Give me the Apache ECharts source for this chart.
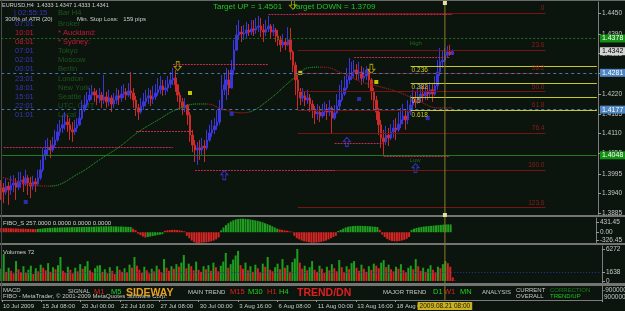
<!DOCTYPE html>
<html>
<head>
<meta charset="utf-8">
<script src="https://cdn.jsdelivr.net/npm/echarts@6/dist/echarts.min.js"></script>
<style>
html,body{margin:0;padding:0;background:#0b150d;overflow:hidden}
#chart{width:625px;height:311px}
</style>
</head>
<body>
<div id="chart"></div>
<script>
// ================= DATA =================
const slotCount = 244;          // bar slots incl. empty right shift
const firstOpen = 13960;        // price in 1e-4 units
const closeP = [
13956,13944,13961,13950,13964,13970,13958,13975,13978,13967,
13984,13970,13961,13973,13967,13984,14007,14049,14063,14071,
14063,14077,14091,14114,14125,14134,14142,14134,14120,14114,
14125,14134,14153,14176,14190,14204,14218,14227,14218,14210,
14218,14204,14213,14199,14210,14193,14204,14216,14210,14221,
14227,14218,14230,14224,14204,14182,14170,14187,14199,14210,
14216,14207,14213,14224,14233,14244,14233,14238,14249,14261,
14266,14247,14218,14199,14182,14190,14162,14105,14077,14063,
14069,14063,14074,14069,14091,14111,14120,14131,14142,14176,
14233,14247,14261,14238,14289,14345,14388,14396,14391,14393,
14402,14396,14405,14402,14410,14413,14402,14396,14405,14413,
14396,14402,14385,14374,14360,14368,14360,14374,14340,14303,
14261,14227,14210,14216,14204,14210,14193,14176,14165,14170,
14159,14170,14176,14170,14182,14153,14168,14187,14204,14221,
14238,14261,14272,14283,14289,14278,14283,14266,14272,14289,
14261,14227,14204,14170,14134,14097,14086,14105,14097,14114,
14125,14120,14136,14148,14159,14148,14170,14190,14204,14199,
14213,14221,14216,14227,14221,14233,14221,14244,14283,14312,
14317,14331,14340,14333,14341];
const highP = [
13978,13970,13984,13973,13990,13992,13984,14001,14001,13990,
14007,13992,13987,13990,13984,14007,14035,14069,14091,14097,
14091,14100,14120,14136,14148,14162,14170,14162,14153,14142,
14148,14153,14176,14204,14218,14227,14238,14247,14238,14233,
14238,14227,14275,14227,14233,14218,14224,14238,14233,14244,
14249,14238,14252,14283,14238,14216,14193,14210,14224,14233,
14238,14233,14244,14249,14266,14272,14261,14261,14272,14283,
14295,14289,14249,14227,14210,14210,14193,14170,14120,14091,
14086,14091,14097,14091,14120,14134,14148,14153,14176,14204,
14275,14281,14295,14289,14317,14374,14416,14430,14413,14416,
14425,14419,14430,14430,14436,14442,14436,14419,14430,14442,
14419,14419,14408,14402,14385,14391,14379,14410,14408,14345,
14312,14275,14238,14238,14227,14233,14221,14204,14187,14193,
14187,14193,14199,14193,14204,14187,14190,14221,14247,14261,
14272,14295,14323,14312,14317,14306,14312,14300,14295,14300,
14278,14266,14238,14216,14182,14148,14120,14131,14125,14136,
14148,14153,14170,14182,14193,14176,14204,14218,14233,14227,
14241,14247,14244,14249,14244,14255,14249,14272,14317,14351,
14345,14351,14357,14360,14347];
const lowP = [
13922,13913,13936,13908,13936,13944,13922,13950,13956,13944,
13961,13936,13927,13950,13944,13961,13978,14001,14035,14049,
14040,14057,14069,14086,14103,14111,14120,14114,14091,14086,
14105,14114,14131,14148,14170,14182,14199,14204,14199,14190,
14196,14182,14193,14182,14187,14170,14182,14193,14190,14199,
14210,14204,14213,14207,14182,14159,14148,14165,14176,14187,
14193,14187,14193,14204,14216,14221,14216,14218,14227,14238,
14247,14227,14199,14176,14162,14170,14134,14086,14057,14029,
14021,14035,14049,14029,14063,14086,14100,14108,14120,14134,
14176,14218,14204,14218,14238,14275,14345,14374,14368,14374,
14379,14385,14388,14385,14391,14396,14382,14368,14385,14396,
14379,14385,14368,14357,14340,14351,14345,14357,14317,14283,
14218,14176,14190,14199,14187,14193,14170,14153,14136,14148,
14142,14153,14159,14148,14159,14111,14148,14165,14176,14199,
14216,14233,14249,14261,14266,14261,14261,14247,14255,14261,
14238,14204,14176,14148,14105,14069,14049,14077,14074,14091,
14097,14091,14114,14125,14136,14120,14136,14162,14176,14182,
14193,14199,14199,14204,14204,14210,14199,14216,14233,14272,
14295,14312,14323,14329,14333];
const volumes = [
2400,5300,1800,2600,2000,1500,3900,2300,1700,2900,
1600,2200,3000,1400,2500,1900,3200,2600,2100,3500,
1800,2700,2300,3100,4700,2000,1600,2800,2200,1500,
2600,1900,3300,2400,2900,3900,2100,1700,2500,3000,
3100,1800,2300,1500,2700,2000,1400,2900,2200,1800,
2500,1700,3200,2600,4700,3000,2200,1600,2800,2100,
1500,2400,1900,3000,2300,1700,4300,2600,2000,2900,
2400,3300,2800,3600,5100,2500,3400,2900,2100,3800,
2200,1800,2900,2300,3100,2000,3600,2700,1900,3000,
3800,5500,2600,3300,4200,5000,5900,3100,2400,3600,
2100,2900,1800,3200,2500,1700,3400,2800,4700,2200,
1900,2700,3400,2300,4300,2600,3100,1800,3700,4400,
6272,3600,2400,3000,2100,2700,3900,2200,1800,3000,
2400,1600,2800,2100,3300,2500,1900,4100,2700,1700,
2900,2300,3500,3900,2600,2000,3200,2400,1800,2900,
2200,3400,3000,2500,3600,4100,2700,3200,2300,1900,
2800,2400,3300,2100,1700,2600,3000,2300,4300,2900,
2000,2600,1800,2400,3100,2200,1700,2800,2500,3300,
3900,3500,2800,700,72];
const fiboVals = [
180,175,170,170,165,160,160,155,150,150,145,140,140,135,130,
140,150,160,170,180,185,190,195,200,200,205,205,210,210,215,215,215,220,220,225,225,230,230,235,240,240,245,245,250,250,250,245,245,240,240,235,230,225,220,
150,90,-60,-120,-180,-220,
-200,-180,-160,-140,-120,-100,-80,
60,80,90,100,100,90,80,60,40,-150,-250,-350,-420,-450,-450,-440,-430,-420,-400,-380,-350,-300,-220,
80,200,300,380,450,500,540,560,570,570,560,550,540,520,500,480,450,420,380,340,300,250,200,150,
120,100,80,60,40,20,-150,-250,-300,-350,-380,-400,-420,-440,-440,-430,-420,-400,-380,-350,-300,-250,-200,-150,
50,100,150,200,230,250,260,270,270,270,265,260,255,250,240,230,220,
100,-100,-200,-280,-340,-370,-380,-380,-370,-350,-320,-280,-200,
100,150,180,200,220,240,250,260,270,280,290,300,310,320,330,330,330];
const fiboColorRuns = [['r',15],['g',39],['r',6],['g',7],['r',23],['g',24],['r',24],['g',17],['r',13],['g',17]];
const maIdx = [0,13,20,32,40,48,56,64,72,80,84,90,98,101,109,117,121,125,130,134,138,141,147,155,163,171,178,184];
const maVal = [13987,13964,13961,13998,14035,14071,14114,14148,14179,14193,14193,14179,14168,14170,14204,14252,14275,14295,14297,14295,14283,14275,14255,14241,14224,14199,14182,14182];
const maRising = [[20,84],[101,130]];
const tickLabels = ["10 Jul 2009","15 Jul 08:00","20 Jul 00:00","22 Jul 16:00","27 Jul 08:00","30 Jul 00:00","3 Aug 16:00","6 Aug 08:00","11 Aug 00:00","13 Aug 16:00","18 Aug 08:00"];
const tickStep = 16;
const priceTicks = [1.4450,1.4390,1.4335,1.4280,1.4220,1.4165,1.4110,1.4055,1.3995,1.3940,1.3885];
const fiboTicks = [431.45,0,-326.45];
const volTicks = [6272,1638,0];
const fibRatios = [0,23.6,38.2,50,61.8,76.4,100,123.6];
const fibHigh = 1.4450, fibLow = 1.4006, fibSpan = [121,222];
const subFibRatios = [0.236,0.382,0.5,0.618];
const dayHigh = 1.4378, dayLow = 1.4048, subFibStart = 167;
const srLines = [[70,109,1.4306],[109,184,1.4447],[144,183,1.4326],[1,70,1.4071],[55,78,1.4117],[79,136,1.4007],[136,156,1.4083],[156,183,1.4046]];
const levelValues = [1.4378,1.4342,1.4281,1.4177,1.4048];
const arrowsDown = [[72,1.4300],[119,1.4473],[151,1.4292]];
const arrowsUp = [[91,1.3992],[141,1.4086],[169,1.4012]];
const dotsYellow = [[77,1.4224],[122,1.4281],[153,1.4255]];
const dotsBlue = [[10,1.3916],[94,1.4165],[146,1.4207],[174,1.4153]];
const cursorIdx = 181;
const cursorLabel = "2009.08.21 08:00";
const volLevel = 1638;

// ================= BUILD =================
const FONT = '"Liberation Sans", Arial, sans-serif';
const UP = '#3a36dc', DN = '#cf2a2a', GREEN = '#1f9e1f', RED = '#d42424';
const AX = '#c8c8c8';
const cats = Array.from({length: slotCount}, (_, i) => i);
const candles = closeP.map((c, i) => {
  const o = i === 0 ? firstOpen : closeP[i - 1];
  const h = Math.max(highP[i], o, c), l = Math.min(lowP[i], o, c);
  return [o / 1e4, c / 1e4, l / 1e4, h / 1e4];
});
const fiboColors = fiboColorRuns.flatMap(([c, n]) => Array(n).fill(c));
const fiboData = fiboVals.map((v, i) => ({value: v, itemStyle: {color: fiboColors[i] === 'g' ? GREEN : RED}}));
const volData = volumes.map((v, i) => ({value: v, itemStyle: {color: (i > 0 && v <= volumes[i - 1]) ? RED : GREEN}}));
const maData = maIdx.map((x, k) => [x, maVal[k] / 1e4]);

const levelStyles = [
  {line: '#1c6e1c', type: [2, 2], bg: '#139013', fg: '#ffffff'},
  {line: 'rgba(0,0,0,0)', type: 'solid', bg: '#d4d4d4', fg: '#000000'},
  {line: '#4674b4', type: [3, 3], bg: '#4f86c2', fg: '#ffffff'},
  {line: '#4674b4', type: [3, 3], bg: '#4f86c2', fg: '#ffffff'},
  {line: '#1e7a1e', type: 'solid', bg: '#139013', fg: '#ffffff'}
];

const ml = [];
fibRatios.forEach(r => {
  const p = fibHigh - r / 100 * (fibHigh - fibLow);
  ml.push([{coord: [fibSpan[0], p], lineStyle: {color: '#7a1414', type: 'solid', width: 1},
    label: {show: true, position: 'insideEndTop', formatter: r === 0 ? '0' : r.toFixed(1), color: '#8e1c1c', fontSize: 6.5, fontFamily: FONT, distance: 1}},
    {coord: [fibSpan[1], p]}]);
});
srLines.forEach(([a, b, p]) => ml.push([{coord: [a, p], lineStyle: {color: '#c42a52', type: [2, 1], width: 1.2}}, {coord: [b, p]}]));
subFibRatios.forEach(r => {
  const p = dayHigh - r * (dayHigh - dayLow);
  ml.push([{coord: [subFibStart, p], lineStyle: {color: '#c8c828', type: 'solid', width: 1},
    label: {show: true, position: 'insideStartBottom', formatter: String(r), color: '#c8c832', fontSize: 6.5, fontFamily: FONT, distance: 1}},
    {coord: [slotCount - 1, p]}]);
});
levelValues.forEach((v, k) => {
  const s = levelStyles[k];
  ml.push([{coord: [0, v], lineStyle: {color: s.line, type: s.type, width: 1},
    label: {show: true, position: 'end', formatter: v.toFixed(4), backgroundColor: s.bg, color: s.fg, padding: [1, 2, 0, 2], fontSize: 7, fontFamily: FONT, distance: 3}},
    {coord: [slotCount - 1, v]}]);
});

const arrowDownPath = 'path://M3,0 L7,0 L7,6 L10,6 L5,11 L0,6 L3,6 Z';
const arrowUpPath = 'path://M5,0 L10,5 L7,5 L7,11 L3,11 L3,5 L0,5 Z';
const showEvery = idx => idx % tickStep === 0 && idx / tickStep < tickLabels.length;

const hiddenX = g => ({type: 'category', gridIndex: g, data: cats, boundaryGap: true, show: false});
const yBase = (g, min, max, ticks, fmt) => ({
  type: 'value', gridIndex: g, position: 'right', min, max,
  splitLine: {show: false},
  axisLine: {show: true, lineStyle: {color: '#7c7c7c', width: 1}},
  axisTick: {show: !!ticks, customValues: ticks || [], length: 3, lineStyle: {color: '#9a9a9a'}},
  axisLabel: {show: !!ticks, customValues: ticks || [], formatter: fmt, color: AX, fontSize: 6.5, fontFamily: FONT, margin: 4}
});

const option = {
  animation: false,
  backgroundColor: '#0b150d',
  grid: [
    {left: 0, top: 2, width: 602, height: 213},
    {left: 0, top: 218, width: 602, height: 25},
    {left: 0, top: 246, width: 602, height: 37},
    {left: 0, top: 286, width: 602, height: 14}
  ],
  xAxis: [hiddenX(0), hiddenX(1), hiddenX(2), {
    type: 'category', gridIndex: 3, data: cats, boundaryGap: true, position: 'bottom',
    axisLine: {show: true, lineStyle: {color: '#7c7c7c', width: 1}},
    axisTick: {show: true, interval: (i) => showEvery(i), length: 2, lineStyle: {color: '#9a9a9a'}},
    axisLabel: {show: true, interval: (i) => showEvery(i), formatter: (v) => tickLabels[Number(v) / tickStep],
      align: 'left', color: AX, fontSize: 6, fontFamily: FONT, margin: 3}
  }],
  yAxis: [
    yBase(0, 1.387935, 1.448107, priceTicks, v => v.toFixed(4)),
    yBase(1, -452.77, 599.87, fiboTicks, v => v.toFixed(2)),
    yBase(2, -392, 6860, volTicks, v => String(Math.round(v))),
    yBase(3, 0, 1, null, null)
  ],
  visualMap: {
    show: false, type: 'piecewise', seriesIndex: 1, dimension: 0,
    pieces: maRising.map(([a, b]) => ({gte: a, lte: b, color: '#1f7a1f'})),
    outOfRange: {color: '#8a1a1a'}
  },
  series: [
    {type: 'candlestick', xAxisIndex: 0, yAxisIndex: 0, data: candles, barWidth: 2,
      itemStyle: {color: UP, color0: DN, borderColor: UP, borderColor0: DN, borderWidth: 1},
      markLine: {symbol: ['none', 'none'], silent: true, animation: false, label: {show: false}, data: ml}},
    {type: 'line', xAxisIndex: 0, yAxisIndex: 0, data: maData, smooth: 0.4, showSymbol: false,
      lineStyle: {width: 1, type: [1, 1]}, z: 3},
    {type: 'scatter', xAxisIndex: 0, yAxisIndex: 0, data: arrowsDown, symbol: arrowDownPath, symbolSize: [7, 9],
      itemStyle: {color: 'rgba(0,0,0,0)', borderColor: '#c8b400', borderWidth: 1}, z: 4},
    {type: 'scatter', xAxisIndex: 0, yAxisIndex: 0, data: arrowsUp, symbol: arrowUpPath, symbolSize: [7, 9],
      itemStyle: {color: 'rgba(0,0,0,0)', borderColor: '#3b3be2', borderWidth: 1}, z: 4},
    {type: 'scatter', xAxisIndex: 0, yAxisIndex: 0, data: dotsYellow, symbol: 'rect', symbolSize: 4,
      itemStyle: {color: '#f0f000'}, z: 4},
    {type: 'scatter', xAxisIndex: 0, yAxisIndex: 0, data: dotsBlue, symbol: 'rect', symbolSize: 4,
      itemStyle: {color: '#3434d8'}, z: 4},
    {type: 'bar', xAxisIndex: 1, yAxisIndex: 1, data: fiboData, barWidth: 2},
    {type: 'bar', xAxisIndex: 2, yAxisIndex: 2, data: volData, barWidth: 2,
      markLine: {symbol: ['none', 'none'], silent: true, label: {show: false},
        data: [[{coord: [0, volLevel], lineStyle: {color: '#2a36a8', type: [1, 2], width: 1}}, {coord: [slotCount - 1, volLevel]}]]}}
  ]
};

const chart = echarts.init(document.getElementById('chart'), null, {renderer: 'canvas'});
chart.setOption(option);

// ---------- text & decorations ----------
const T = (text, x, y, fill, size, o = {}) => ({
  type: 'text', x, y, z: o.z ?? 0, silent: true,
  style: {text, fill, font: `${o.bold ? 'bold ' : ''}${size}px ${FONT}`, align: o.align || 'left', verticalAlign: 'middle',
    backgroundColor: o.bg, padding: o.pad}
});
const R = (x, y, w, h, fill, z = 10) => ({type: 'rect', z, silent: true, shape: {x, y, width: w, height: h}, style: {fill}});

const g = [];
g.push(R(0, 0, 625, 1, '#6a6a6a'));
g.push(R(0, 215, 625, 2, '#747474'));
g.push(R(0, 243, 625, 2, '#747474'));
g.push(R(0, 283, 625, 3, '#747474'));
g.push(R(1, 0, 1, 300, '#4a4a4a'));

g.push(T('EURUSD,H4  1.4333 1.4347 1.4333 1.4341', 2, 5, '#d0d0d0', 5.5));
g.push(T('| 02:55:15', 14, 13, '#3a34c0', 7.5));
g.push(T('Bar H4', 58, 13, '#1d5a1d', 7.5));
g.push(T('300% of ATR (20)', 5, 19, '#d0d0d0', 6));
g.push(T('Min. Stop Loss:   159 pips', 77, 19, '#d0d0d0', 6));
const clock = [
  ['07:01', 'Broker', '#3a34b8', '#1d561d', 24],
  ['10:01', '* Auckland:', '#c8163c', '#c8163c', 33],
  ['08:01', '* Sydney:', '#c8163c', '#c8163c', 42],
  ['07:01', 'Tokyo', '#3a34b8', '#1d561d', 51],
  ['02:01', 'Moscow', '#3a34b8', '#1d561d', 60],
  ['00:01', 'Berlin', '#3a34b8', '#1d561d', 69],
  ['23:01', 'London', '#3a34b8', '#1d561d', 79],
  ['18:01', 'New York', '#3a34b8', '#1d561d', 88],
  ['15:01', 'Seattle', '#3a34b8', '#1d561d', 97],
  ['22:01', 'UTC, GMT', '#3a34b8', '#1d561d', 106],
  ['01:01', 'Local', '#3a34b8', '#1d561d', 115]
];
clock.forEach(([t, c, tc, cc, y]) => { g.push(T(t, 15, y, tc, 7.5)); g.push(T(c, 58, y, cc, 7.5)); });
g.push(T('Target UP = 1.4501', 213, 7, '#22c422', 8));
g.push(T('Target DOWN = 1.3709', 292, 7, '#22c422', 8));

g.push(T('FIBO_S 257.0000 0.0000 0.0000 0.0000', 3, 223, '#d0d0d0', 6, {z: 5}));
g.push(T('Volumes 72', 3, 252, '#d0d0d0', 6, {z: 5}));

g.push(T('MACD', 3, 290, '#c8c8c8', 6));
g.push(T('FIBO - MetaTrader, \u00a9 2001-2009 MetaQuotes Software Corp.', 3, 296, '#c8c8c8', 6));
g.push(T('SIGNAL', 68, 291, '#c8c8c8', 6));
g.push(T('M1', 94, 292, '#e02020', 7.5));
g.push(T('M5', 111, 292, '#22d022', 7.5));
g.push(T('SIDEWAY', 126, 293, '#e8a020', 10.5, {bold: true}));
g.push(T('MAIN TREND', 188, 292, '#c8c8c8', 6));
g.push(T('M15', 230, 292, '#e02020', 7.5));
g.push(T('M30', 248, 292, '#22d022', 7.5));
g.push(T('H1', 267, 292, '#e02020', 7.5));
g.push(T('H4', 279, 292, '#22d022', 7.5));
g.push(T('TREND/DN', 297, 293, '#e02020', 10.5, {bold: true}));
g.push(T('MAJOR TREND', 383, 292, '#c8c8c8', 6));
g.push(T('D1', 433, 292, '#22d022', 7.5));
g.push(T('W1', 444, 292, '#e02020', 7.5));
g.push(T('MN', 460, 292, '#22d022', 7.5));
g.push(T('ANALYSIS', 482, 292, '#c8c8c8', 6));
g.push(T('CURRENT', 516, 290, '#c8c8c8', 6));
g.push(T('OVERALL', 516, 296, '#c8c8c8', 6));
g.push(T('CORRECTION', 550, 290, '#1b7a1b', 6));
g.push(T('TREND/UP', 550, 296, '#22c422', 6));
g.push(T('-9000000', 603, 290, AX, 6.5, {z: 11}));
g.push(T('9000000', 604, 297, AX, 6.5, {z: 11}));

const px = (i, v) => chart.convertToPixel({gridIndex: 0}, [i, v]);
const hp = px(subFibStart, dayHigh), lp = px(subFibStart, dayLow);
g.push(T('High', hp[0] - 1, hp[1] + 5, '#1d6a1d', 6, {z: 5}));
g.push(T('Low', lp[0] - 1, lp[1] + 5, '#1d6a1d', 6, {z: 5}));
const cx = px(cursorIdx, fibHigh)[0];
g.push({type: 'line', z: 9, silent: true, shape: {x1: cx, y1: 3, x2: cx, y2: 301}, style: {stroke: '#8c7c28', lineWidth: 1}});
g.push(R(cx - 2, 1, 4, 4, '#e8e0a0', 12));
g.push(R(cx - 2, 213, 4, 4, '#e8e0a0', 12));
g.push(T(cursorLabel, cx, 306, '#1a1a00', 6.5, {align: 'center', bg: '#c8b020', pad: [1, 2, 0, 2], z: 12}));

chart.setOption({graphic: {elements: g}});
</script>
</body>
</html>
